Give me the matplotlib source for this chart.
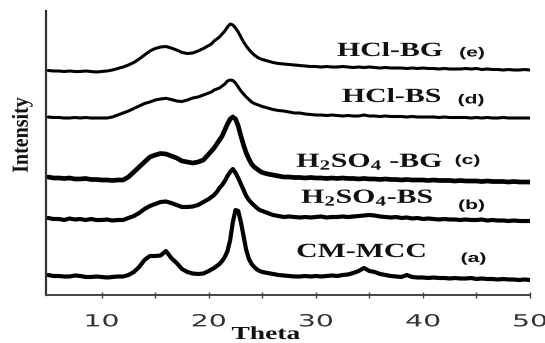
import numpy as np
import matplotlib
matplotlib.use("Agg")
import matplotlib.pyplot as plt
from matplotlib.patheffects import AbstractPathEffect
from matplotlib.transforms import Affine2D
from matplotlib.ticker import FixedLocator

# ---------------- data ----------------
theta = np.concatenate([np.arange(5, 20, 0.5),
                        np.arange(20, 25, 0.25),
                        np.arange(25, 50.01, 0.5)])

int_a = [5, 4, 4, 3.5, 3.5, 4.5, 4, 3, 3, 3.5, 3, 2.5, 3, 3.5, 3.5, 5, 8, 13, 20, 24,
         24, 24.5, 29, 22, 17, 11, 8, 6.5, 6, 6.5,
         9, 10.5, 12, 14, 16, 19, 23, 29, 40, 58, 70, 69, 58, 44, 30, 21, 16, 13, 10.5, 9,
         8, 7, 6, 5, 4.5, 4, 3.5, 3.5, 4, 3.5, 4, 3.5, 4, 4.5, 4, 5, 5.5, 7, 9, 12,
         9, 8, 6, 5, 4, 3.5, 3, 5, 3, 2.5, 2.5, 2, 2.5, 2, 2, 1.5, 2, 1.5, 1.5, 2,
         1, 1.5, 1, 1, 0.5, 1, 0.5, 0.5, 0, 0.5, 0]

int_b = [4, 3, 3, 2, 3.5, 2.5, 3, 2, 3, 2, 2, 2.5, 1.5, 2, 2, 4, 6, 9, 13, 16,
         18, 20, 20.5, 19, 17, 15, 15, 15.5, 17, 20,
         23, 25, 27, 30, 34, 37, 41, 46, 50, 53, 49, 44, 38, 32, 26, 22, 19, 16.5, 14, 12,
         11, 9, 7, 6, 5, 5.5, 5, 4.5, 5, 4.5, 5, 5.5, 4.5, 5, 5, 5.5, 5, 5.5, 6, 6.5,
         7, 6.5, 5.5, 5, 4.5, 5, 4, 4.5, 3.5, 4, 3, 3.5, 3, 2.5, 3, 2.5, 2.5, 2, 2.5, 2,
         2, 2.5, 1.5, 2, 1.5, 1.5, 1, 1.5, 1, 1, 1]

int_c = [5, 4, 4, 3.5, 4, 3, 3, 3.5, 2.5, 2.5, 2, 2, 1.5, 2, 2, 5, 10, 15, 20, 25,
         27, 28.5, 28, 26, 24, 21, 20, 19, 20, 22,
         28, 31, 34, 38, 42, 46, 52, 58, 63, 65, 63, 56, 46, 37, 29, 23, 18, 15, 13, 11,
         9.5, 8, 7, 6, 5, 5, 4.5, 4.5, 4, 4.5, 4, 4, 3.5, 4, 3.5, 4, 3.5, 3.5, 3, 3.5,
         3, 3, 2.5, 3, 2.5, 2.5, 2, 2.5, 2, 2, 2, 1.5, 2, 1.5, 1.5, 1.5, 1, 1.5, 1, 1,
         1, 0.5, 1, 0.5, 0.5, 0.5, 0, 0.5, 0, 0, 0]

int_d = [1, 0.5, 0.5, 0, 0, 0.5, 0, 0.5, 0, 0, 0, 0, 1, 3, 5, 7, 9.5, 12, 14.5, 16,
         18, 19, 19.7, 18.5, 17, 16.5, 18, 20, 21, 23,
         25, 26, 28, 29, 30, 32, 34, 37, 38, 37.5, 35, 31, 27, 24, 21, 18.5, 16, 14.5, 13.5, 12.5,
         11.5, 10, 8.5, 7.5, 7, 6, 5, 5, 4, 3.5, 3, 3, 2.5, 3, 2.5, 2, 2.5, 2, 2, 3,
         2, 2, 1.5, 2, 1.5, 1.5, 1.5, 1, 1.5, 1, 1, 1, 1, 0.5, 1, 0.5, 0.5, 0.5, 0.5, 0,
         0.5, 0, 0.5, 0, 0, 0.5, 0, 0, 0, 0, 0]

int_e = [0.5, 0, 0, -0.5, 0, -0.5, -0.5, 0, -0.5, -1, -0.5, 0, 1, 2.5, 4, 6, 8.5, 12, 16, 20,
         22.5, 24, 24.5, 23, 21, 18.5, 17.5, 18, 20, 22.5,
         25.5, 27, 30, 32, 34, 37, 40, 44, 47, 46, 43, 39, 34, 29, 25, 21.5, 18.5, 16, 14, 12.5,
         11.5, 10, 8.5, 7.5, 7, 6.5, 6, 5.5, 5, 4.5, 4.5, 4, 4.5, 4, 4, 4.5, 4, 3.5, 4, 3.5,
         4, 3.5, 3, 3.5, 3, 3, 3, 2.5, 3, 2.5, 3, 2.5, 2.5, 2, 2.5, 2, 2, 2, 2.5, 2,
         2.5, 1.5, 2, 1.5, 1.5, 1, 1.5, 1, 1, 1.5, 1]

series = [int_a, int_b, int_c, int_d, int_e]
offsets = [15, 73, 113, 177, 224]
names = ["CM-MCC", r"H$_\mathrm{2}$SO$_\mathrm{4}$-BS", r"H$_\mathrm{2}$SO$_\mathrm{4}$ -BG",
         "HCl-BS", "HCl-BG"]
letters = ["(a)", "(b)", "(c)", "(d)", "(e)"]
xticks_major = [10, 20, 30, 40, 50]
xticks_minor = [15, 25, 35, 45]

# ---------------- style ----------------
plt.rcParams['mathtext.fontset'] = 'custom'
plt.rcParams['mathtext.rm'] = 'Liberation Serif:bold'
plt.rcParams['mathtext.it'] = 'Liberation Serif:italic:bold'
plt.rcParams['mathtext.bf'] = 'Liberation Serif:bold'


class Stretch(AbstractPathEffect):
    """Stretch glyphs about their own centre (the source figure is widened)."""
    def __init__(self, sx=1.0, sy=1.0):
        super().__init__((0, 0))
        self.sx, self.sy = sx, sy

    def draw_path(self, renderer, gc, tpath, affine, rgbFace=None):
        ext = tpath.get_extents()
        cx = (ext.x0 + ext.x1) / 2
        cy = (ext.y0 + ext.y1) / 2
        t = Affine2D().translate(-cx, -cy).scale(self.sx, self.sy).translate(cx, cy) + affine
        renderer.draw_path(gc, tpath, t, rgbFace)


W, H = 545, 343
fig = plt.figure(figsize=(W / 100, H / 100), dpi=100)
ax = fig.add_axes([46 / W, 1 - 295 / H, (530 - 46) / W, (295 - 11) / H])

lws = [3.0, 3.0, 3.4, 2.2, 2.2]
for vals, off, lw in zip(series, offsets, lws):
    ax.plot(theta, np.array(vals) + off, color='black', lw=lw,
            solid_joinstyle='round', solid_capstyle='round')

ax.set_xlim(4.8, 50)
ax.set_ylim(0, 284)
for s in ['top', 'right']:
    ax.spines[s].set_visible(False)
ax.spines['left'].set_color('#333333')
ax.spines['left'].set_linewidth(1.6)
ax.spines['bottom'].set_color('#444444')
ax.spines['bottom'].set_linewidth(1.4)
ax.set_yticks([])
ax.xaxis.set_major_locator(FixedLocator(xticks_major))
ax.xaxis.set_minor_locator(FixedLocator(xticks_minor))
ax.tick_params(axis='x', which='both', direction='inout', length=5, width=1,
               color='#444444')
ax.tick_params(axis='x', which='major', pad=10, labelsize=12, labelcolor='#333333')
for t in ax.xaxis.get_major_ticks():
    t.label1.set_fontfamily('DejaVu Sans')
    t.label1.set_path_effects([Stretch(1.7, 1.0)])


def fx(px):
    return px / W


def fy(py):
    return 1 - py / H


# series labels
name_pos = [(361.5, 257), (367.5, 203), (370, 167), (391.5, 102), (390, 56)]
letter_pos = [(473.5, 259), (471.5, 206), (467.5, 161), (471, 100.5), (472, 53.5)]
for name, (x, y) in zip(names, name_pos):
    fig.text(fx(x), fy(y), name, ha='center', va='baseline', fontsize=14.5,
             fontweight='bold', family='Liberation Serif', color='#111111',
             path_effects=[Stretch(1.48, 1.0)])
for let, (x, y) in zip(letters, letter_pos):
    fig.text(fx(x), fy(y), let, ha='center', va='center', fontsize=9.5,
             fontweight='bold', family='Liberation Sans', color='#111111',
             path_effects=[Stretch(1.6, 1.0)])

fig.text(fx(266), fy(339), "Theta", ha='center', va='baseline', fontsize=13.2,
         fontweight='bold', family='Liberation Serif', color='#111111',
         path_effects=[Stretch(1.5, 1.0)])
fig.text(fx(22), fy(135), "Intensity", ha='center', va='center', rotation=90,
         fontsize=14.4, fontweight='bold', family='Liberation Serif', color='#111111',
         path_effects=[Stretch(1.0, 1.15)])

fig.savefig("out.png", dpi=100)
